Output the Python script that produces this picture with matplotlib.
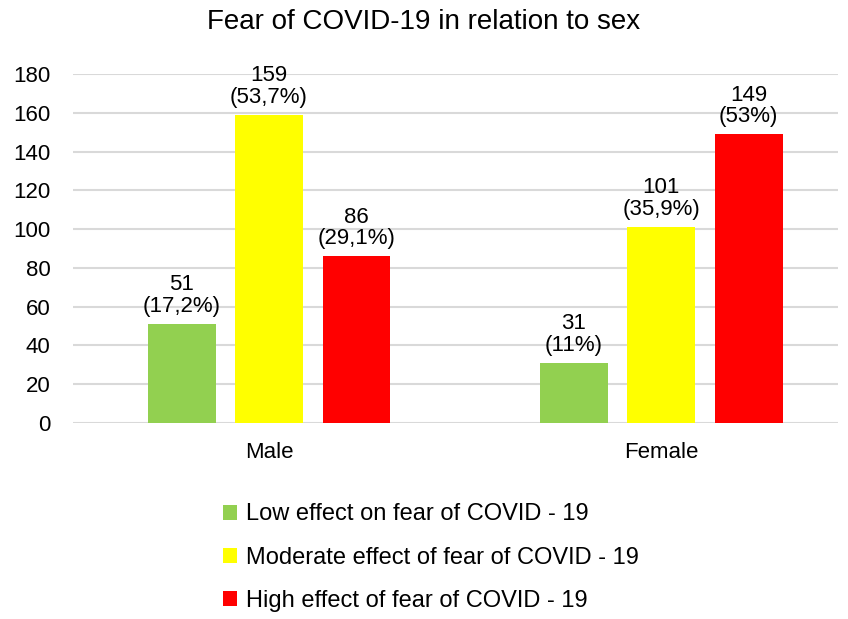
import numpy as np
import matplotlib.pyplot as plt

plt.rcParams["font.family"] = ["Liberation Sans", "DejaVu Sans"]

categories = ["Male", "Female"]
series_names = [
    "Low effect on fear of COVID - 19",
    "Moderate effect of fear of COVID - 19",
    "High effect of fear of COVID - 19",
]
low = [51, 31]
moderate = [159, 101]
high = [86, 149]
low_pct = ["17,2%", "11%"]
moderate_pct = ["53,7%", "35,9%"]
high_pct = ["29,1%", "53%"]
colors = ["#92d050", "#ffff00", "#ff0000"]

fig = plt.figure(figsize=(8.48, 6.19), dpi=100)
ax = fig.add_axes([0.086, 0.317, 0.902, 0.563])

x = np.arange(len(categories))
width = 0.173
offset = 0.223

for i, (vals, pcts) in enumerate(
    [(low, low_pct), (moderate, moderate_pct), (high, high_pct)]
):
    bars = ax.bar(x + (i - 1) * offset, vals, width, color=colors[i],
                  label=series_names[i], zorder=3)
    for b, v, p in zip(bars, vals, pcts):
        ax.annotate(f"{v}\n({p})", (b.get_x() + b.get_width() / 2, v),
                    xytext=(0, 5), textcoords="offset points",
                    ha="center", va="bottom", fontsize=16, linespacing=1.05)

ax.set_ylim(0, 180)
ax.set_xlim(-0.5, 1.45)
ax.set_yticks(range(0, 181, 20))
ax.set_xticks(x)
ax.set_xticklabels(categories)
ax.tick_params(axis="both", length=0, labelsize=16)
ax.tick_params(axis="x", pad=14)
ax.tick_params(axis="y", pad=16)
ax.grid(axis="y", color="#d9d9d9", linewidth=1.5, zorder=0)
for s in ax.spines.values():
    s.set_visible(False)

fig.suptitle("Fear of COVID-19 in relation to sex", fontsize=20, y=0.985)

fig.legend(loc="upper left", bbox_to_anchor=(0.252, 0.202), frameon=False,
           fontsize=17, handlelength=0.6, handleheight=0.6, handletextpad=0.35,
           labelspacing=0.9, borderaxespad=0)

fig.savefig("out.png", dpi=100)
